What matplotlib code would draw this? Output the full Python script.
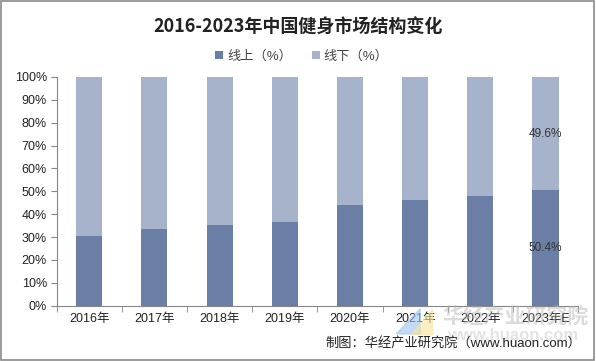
import matplotlib
matplotlib.use("Agg")
import matplotlib.pyplot as plt
from matplotlib.patches import Rectangle, Polygon

plt.rcParams['font.family'] = ['Liberation Sans', 'Noto Sans CJK SC', 'DejaVu Sans']

years = ['2016年', '2017年', '2018年', '2019年', '2020年', '2021年', '2022年', '2023年E']
online = [30.6, 33.6, 35.4, 36.7, 44.1, 46.3, 48.0, 50.4]
offline = [69.4, 66.4, 64.6, 63.3, 55.9, 53.7, 52.0, 49.6]

c_on = '#6b7ea6'
c_off = '#a7b2cb'

fig = plt.figure(figsize=(5.96, 3.61), dpi=100)
ax = fig.add_axes([0.095, 0.153, 0.875, 0.634])

x = range(len(years))
ax.bar(x, online, width=0.4, color=c_on, label='线上（%）')
ax.bar(x, offline, width=0.4, bottom=online, color=c_off, label='线下（%）')

# only the forecast bar carries labels
i = len(years) - 1
ax.text(i, online[i] / 2, f'{online[i]:.1f}%', ha='center', va='center',
        fontsize=8.5, color='#333333')
ax.text(i, online[i] + offline[i] / 2, f'{offline[i]:.1f}%', ha='center', va='center',
        fontsize=8.5, color='#333333')

ax.set_xlim(-0.5, len(years) - 0.5)
ax.set_ylim(0, 100)
ax.set_yticks(range(0, 101, 10))
ax.set_yticklabels([f'{v}%' for v in range(0, 101, 10)], fontsize=9, color='#222222')
ax.set_xticks(list(x))
ax.set_xticklabels(years, fontsize=9, color='#222222')
ax.set_xticks([k + 0.5 for k in range(-1, len(years))], minor=True)
ax.tick_params(axis='x', which='major', length=0, pad=5)
ax.tick_params(axis='x', which='minor', length=4, color='#868686')
ax.tick_params(axis='y', length=4, color='#868686', pad=3)
for s in ['top', 'right']:
    ax.spines[s].set_visible(False)
for s in ['left', 'bottom']:
    ax.spines[s].set_color('#868686')
    ax.spines[s].set_linewidth(0.8)

fig.text(0.5, 0.925, '2016-2023年中国健身市场结构变化', ha='center', va='center',
         fontsize=13, fontweight='bold', color='#222222',
         family=['Noto Sans CJK SC', 'DejaVu Sans'])
ax.legend(loc='center', bbox_to_anchor=(0.47, 1.09), ncol=2, frameon=False,
          fontsize=9.5, handlelength=0.6, handleheight=0.6, handletextpad=0.3,
          columnspacing=1.5, labelcolor='#444444')

# watermark
fig.add_artist(Polygon([[0.665, 0.075], [0.705, 0.145], [0.705, 0.075]],
                       closed=True, transform=fig.transFigure,
                       color='#9ec3f0', alpha=0.6, zorder=5))
fig.add_artist(Polygon([[0.69, 0.075], [0.725, 0.075], [0.725, 0.145]],
                       closed=True, transform=fig.transFigure,
                       color='#f7e59a', alpha=0.6, zorder=5))
fig.text(0.865, 0.125, '华经产业研究院', ha='center', va='center', fontsize=15,
         fontweight='bold', color='#b0b0b0', alpha=0.45, zorder=6,
         family=['Noto Sans CJK SC'])
fig.text(0.86, 0.072, 'www.huaon.com', ha='center', va='center', fontsize=12,
         fontweight='bold', color='#b0b0b0', alpha=0.35, zorder=6)

fig.text(0.975, 0.05, '制图：华经产业研究院（www.huaon.com）', ha='right', va='center',
         fontsize=9.5, color='#222222', zorder=7)

fig.add_artist(Rectangle((0.002, 0.003), 0.995, 0.993, transform=fig.transFigure,
                         fill=False, edgecolor='#8a8a8a', linewidth=1.2))

fig.savefig('out.png', dpi=100)
